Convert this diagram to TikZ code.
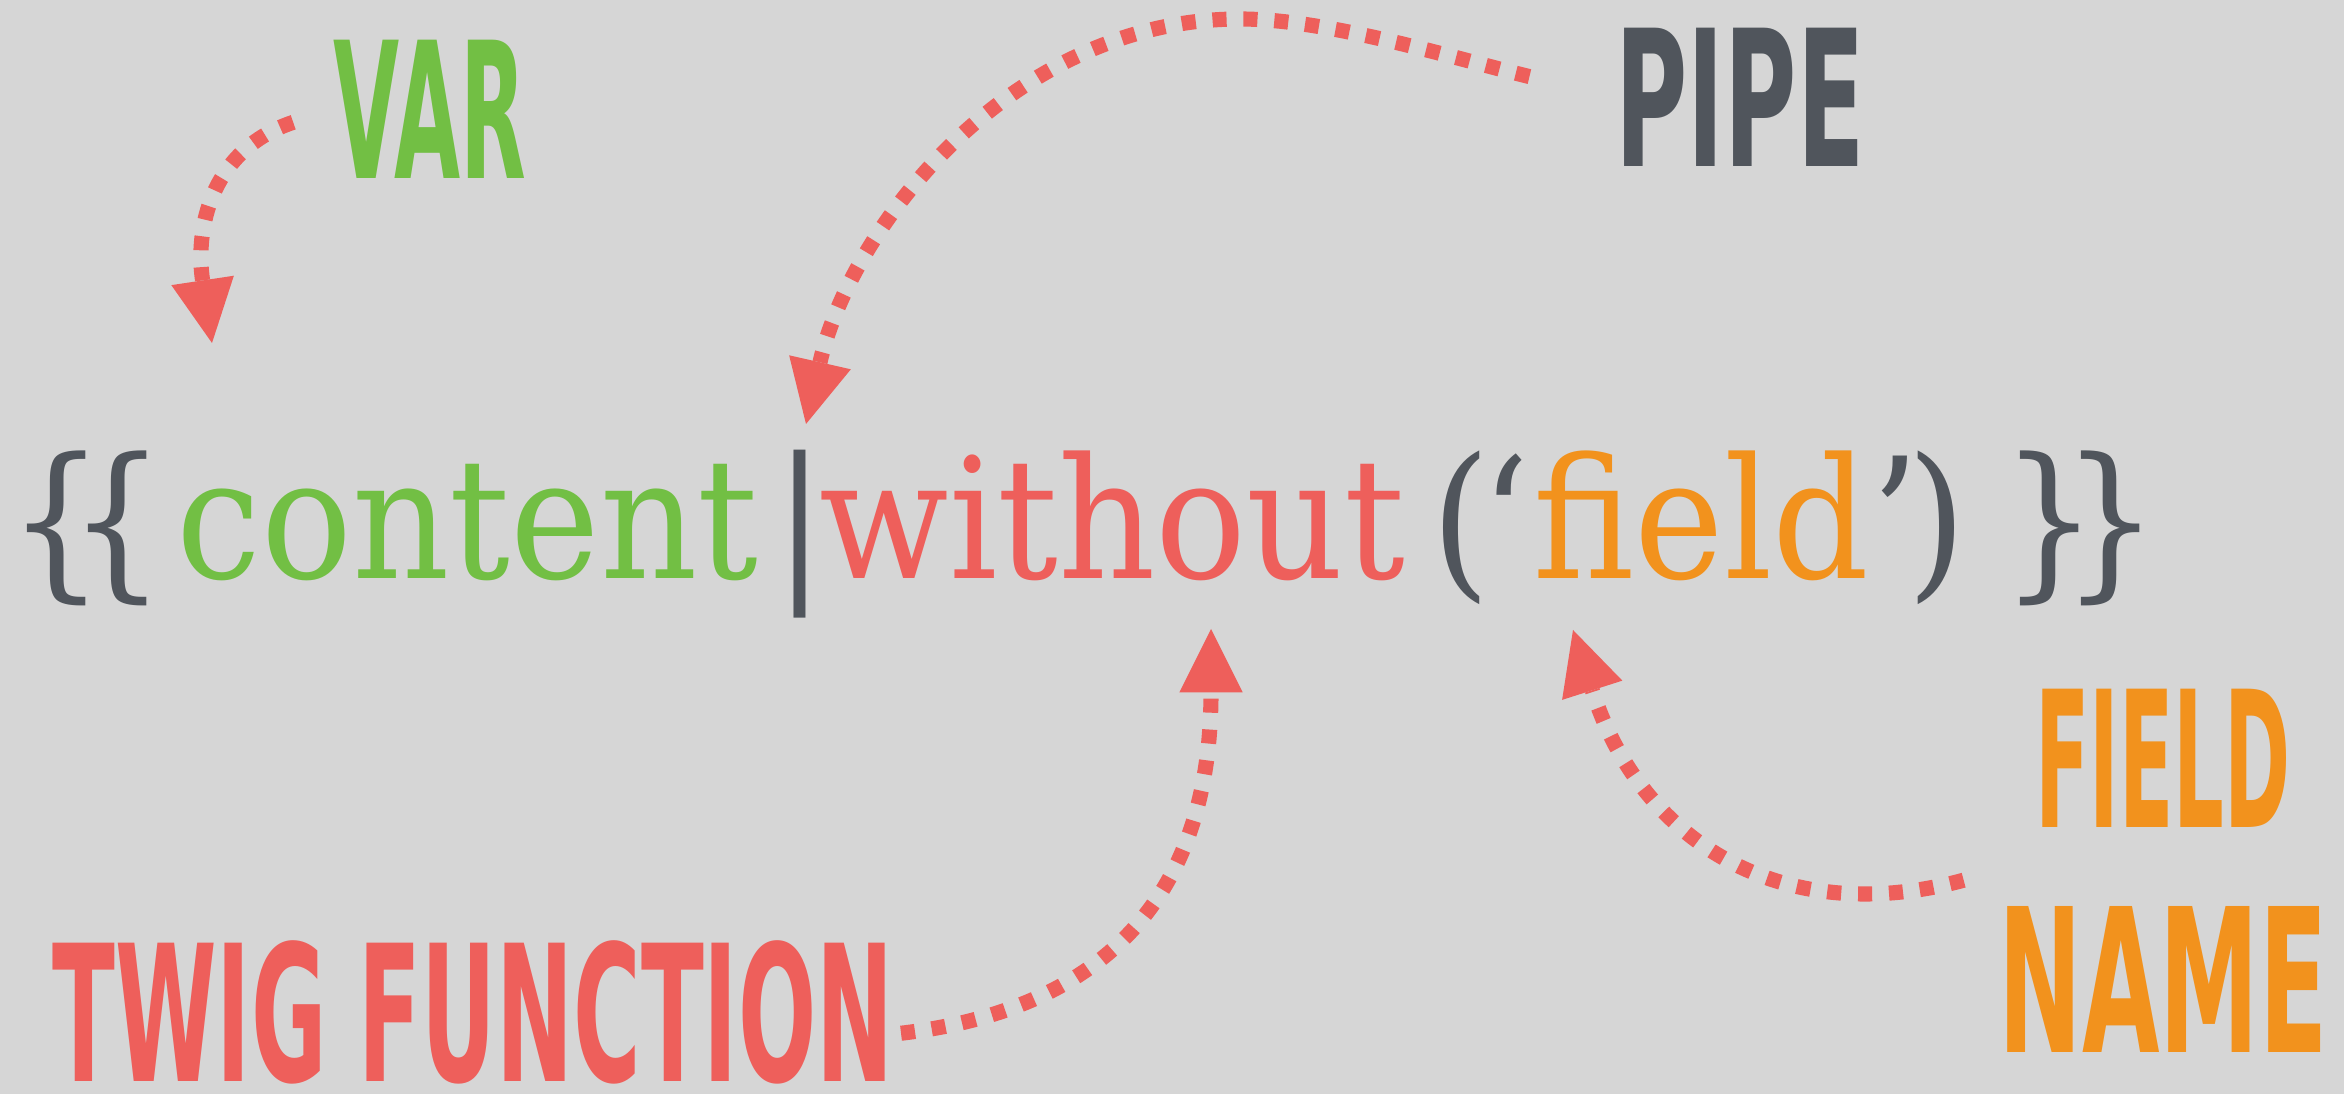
\documentclass[tikz,border=0pt]{standalone}
\usepackage{fontspec}
\usetikzlibrary{arrows.meta}
\newfontfamily\codefont[FakeStretch=0.9]{DejaVu Serif}
\newfontfamily\handfont[FakeStretch=0.45]{DejaVu Sans}
\definecolor{bggray}{HTML}{D6D6D6}
\definecolor{codegray}{HTML}{50555C}
\definecolor{vargreen}{HTML}{72BF44}
\definecolor{funcred}{HTML}{EE5F5B}
\definecolor{fieldorange}{HTML}{F2921D}
\newcommand{\handwide}[1]{\addfontfeatures{FakeStretch=#1}}
\begin{document}
\begin{tikzpicture}[x=0.1mm,y=-0.1mm,
	code/.style={inner sep=0pt,anchor=base west,font=\codefont\fontsize{47.8}{50}\selectfont},
	hand/.style={inner sep=0pt,align=center,font=\handfont\bfseries\fontsize{54}{64}\selectfont},
	hint/.style={draw=funcred,line width=4.3pt,dash pattern=on 4pt off 4.8pt,-{Triangle[length=18pt,width=18pt,line width=0pt]}}]
		\fill[bggray] (0,0) rectangle (2344,1094);
		\useasboundingbox (0,0) rectangle (2344,1094);
		% the twig line
		\node[code,text=codegray] (brL) at (8,579) {\{\kern-10pt\{};
		\node[code,text=vargreen] (cvar) at (176,579) {content};
		\node[code,text=codegray] (cpipe) at (774,579) {|};
		\node[code,text=funcred] (cfunc) at (819,579) {without};
		\node[code,text=codegray] (parL) at (1431,579) {(};
		\node[code,text=codegray] (quL) at (1481,579) {‘};
		\node[code,text=fieldorange] (cfield) at (1533,579) {field};
		\node[code,text=codegray] (quR) at (1871,579) {’};
		\node[code,text=codegray] (parR) at (1907,579) {)};
		\node[code,text=codegray] (brR) at (2001,579) {\}\kern-10pt\}};
		% labels
		\node[hand,text=vargreen] (varlbl) at (430,109) {VAR};
		\node[hand,text=codegray] (pipelbl) at (1740,97) {\handwide{0.52}PIPE};
		\node[hand,text=funcred] (funclbl) at (473,1012) {\handwide{0.485}TWIG FUNCTION};
		\node[hand,text=fieldorange] (fieldlbl) at (2163,871) {{\handwide{0.42}FIELD}\\{\handwide{0.5}\fontsize{57}{64}\selectfont NAME}};
		% arrow tips
		\coordinate (vartip) at (212,343);
		\coordinate (pipetip) at (806,424);
		\coordinate (functip) at (1211,629);
		\coordinate (fieldtip) at (1573,630);
		\draw[hint,shorten <=12pt] (varlbl.west) .. controls (210,150) and (195,230) .. (vartip);
		\draw[hint,shorten <=25pt] (pipelbl.west) .. controls (1460,60) and (1330,19) .. (1240,19)
			.. controls (1010,19) and (850,230) .. (pipetip);
		\draw[hint,shorten <=2pt] (funclbl.-3) .. controls (1100,1010) and (1211,900) .. (functip);
		\draw[hint,shorten <=10pt] (fieldlbl.west) .. controls (1780,930) and (1640,840) .. (fieldtip);
\end{tikzpicture}
\end{document}
